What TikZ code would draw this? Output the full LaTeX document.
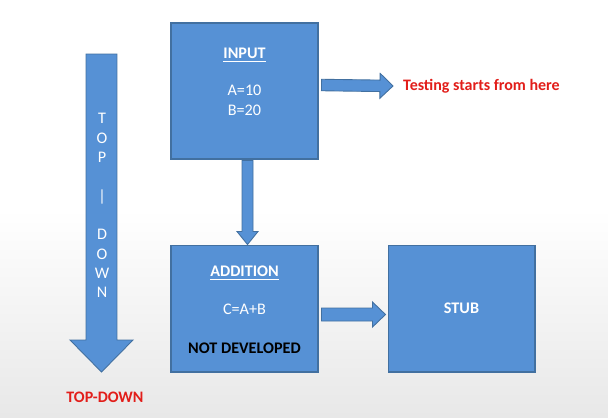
\documentclass[tikz,border=0pt]{standalone}
\usepackage{fontspec}
\setmainfont{Carlito}
\usepackage{xcolor}
\usepackage{tikz}
\usetikzlibrary{calc,positioning}

\definecolor{boxblue}{RGB}{86,145,213}
\definecolor{boxline}{RGB}{66,112,160}
\definecolor{notered}{RGB}{226,30,26}

\tikzset{
  unitbox/.style={draw=boxline, fill=boxblue, line width=0.6pt, inner sep=0pt, minimum width=2.94cm},
  blockarrow/.style={draw=boxline, fill=boxblue, line width=0.5pt, line join=miter},
  boxtext/.style={text=white, font=\fontsize{9.2}{11}\selectfont},
  boxhead/.style={text=white, font=\fontsize{9.2}{11}\selectfont\bfseries},
  notetext/.style={text=notered, font=\fontsize{9.1}{11}\selectfont\bfseries}
}

% block arrow: from, to, shaft half width, head half width, head length
\newcommand{\blockarrow}[5]{%
  \coordinate (ba-s) at (#1);
  \coordinate (ba-t) at (#2);
  \coordinate (ba-h) at ($(ba-t)!#5!(ba-s)$);
  \draw[blockarrow] ($(ba-s)!#3!90:(ba-t)$) -- ($(ba-h)!#3!90:(ba-t)$)
    -- ($(ba-h)!#4!90:(ba-t)$) -- (ba-t) -- ($(ba-h)!#4!-90:(ba-t)$)
    -- ($(ba-h)!#3!-90:(ba-t)$) -- ($(ba-s)!#3!-90:(ba-t)$) -- cycle;
}

\begin{document}
\begin{tikzpicture}[x=0.02cm,y=-0.02cm]

  % background
  \useasboundingbox (0,0) rectangle (608,417);
  \fill[white] (0,0) rectangle (608,210);
  \shade[top color=white, bottom color=black!9] (0,209) rectangle (608,417);

  % boxes
  \node[unitbox, minimum height=2.72cm] (input) at (244.5,91) {};
  \node[unitbox, minimum height=2.54cm, below=1.7cm of input] (addition) {};
  \node[unitbox, minimum height=2.54cm, right=1.38cm of addition] (stub) {};

  % box texts
  \node[boxhead] (inputhead) at ($(input.north)+(0,33)$) {\underline{INPUT}};
  \node[boxtext] (inputa) at ($(input.north)+(0,68)$) {A=10};
  \node[boxtext] (inputb) at ($(input.north)+(0,88)$) {B=20};
  \node[boxhead] (addhead) at ($(addition.north)+(0,29)$) {\underline{ADDITION}};
  \node[boxtext] (addsum) at ($(addition.north)+(0,65)$) {C=A+B};
  \node[boxhead, text=black] (addnote) at ($(addition.north)+(0,104)$) {NOT DEVELOPED};
  \node[boxhead] (stubname) at (stub) {STUB};

  % notes
  \node[notetext, anchor=west] (start) at (397,86) {Testing starts from here};
  \node[notetext] (topdown) at (105,397) {TOP-DOWN};

  % arrows
  \blockarrow{$(input.east)+(3,-6)$}{$(start.west)+(-4,0)$}{0.115cm}{0.25cm}{0.26cm}
  \blockarrow{$(input.south)+(3,1)$}{$(addition.north)+(3,0)$}{0.11cm}{0.21cm}{0.26cm}
  \blockarrow{$(addition.east)+(3,6)$}{$(stub.west)+(-2,6)$}{0.13cm}{0.25cm}{0.26cm}

  % big top-down arrow
  \coordinate (tdtop) at (101.5,54);
  \coordinate (tdtip) at (101.5,372);
  \blockarrow{tdtop}{tdtip}{0.31cm}{0.63cm}{0.64cm}
  \node[boxtext, align=center] (tdletters) at (102,205.5)
    {T\\O\\P\\[11pt]|\\[11pt]D\\O\\W\\N};

\end{tikzpicture}
\end{document}
